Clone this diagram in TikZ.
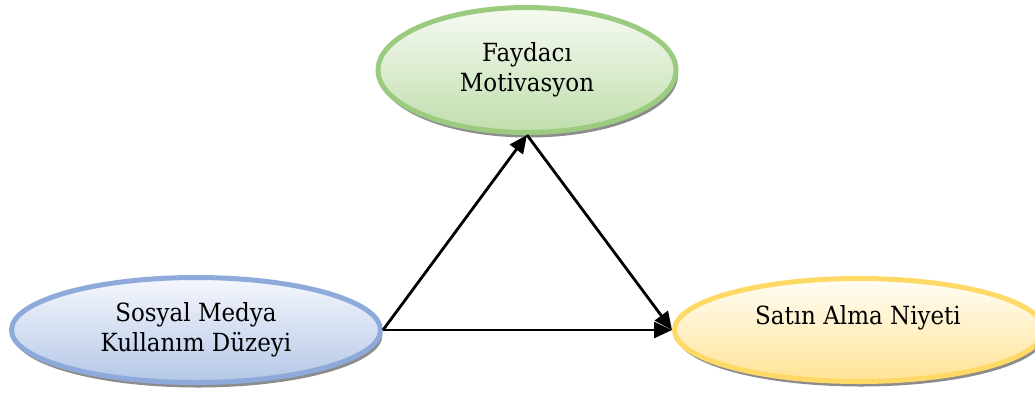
\documentclass[tikz,border=0pt]{standalone}
\usepackage{fontspec}
\setmainfont{DejaVu Serif}[FakeStretch=0.92]
\usetikzlibrary{shapes.geometric,arrows.meta,shadows}

\definecolor{greenline}{HTML}{9BCB7F}
\definecolor{greentop}{HTML}{F6FAF3}
\definecolor{greenbot}{HTML}{C0DEAC}
\definecolor{blueline}{HTML}{8EAADB}
\definecolor{bluetop}{HTML}{F5F7FC}
\definecolor{bluebot}{HTML}{B4C7E7}
\definecolor{yellowline}{HTML}{FFD966}
\definecolor{yellowtop}{HTML}{FFFDF6}
\definecolor{yellowbot}{HTML}{FFE395}

\begin{document}
\begin{tikzpicture}[x=1pt,y=-1pt,
  oval/.style={ellipse, line width=5pt, inner sep=0pt, align=center,
    font=\fontsize{25}{30}\selectfont,
    drop shadow={shadow xshift=2pt, shadow yshift=-5pt, fill=black!45, opacity=1}},
  label text/.style={font=\fontsize{25}{30}\selectfont, align=center, inner sep=0pt},
  link/.style={line width=2.8pt, -{Triangle[length=18pt,width=16pt]}}]
\useasboundingbox (0,0) rectangle (1035,392);

% the three constructs
\node[oval, draw=greenline, top color=greentop, bottom color=greenbot,
      minimum width=298pt, minimum height=125pt] (fm) at (527,70) {Faydacı\\Motivasyon};
\node[oval, draw=blueline, top color=bluetop, bottom color=bluebot,
      minimum width=369pt, minimum height=105pt] (sm) at (196,330) {Sosyal Medya\\Kullanım Düzeyi};
\node[oval, draw=yellowline, top color=yellowtop, bottom color=yellowbot,
      minimum width=369pt, minimum height=103pt] (san) at (859,330) {};
\node[label text] (sant) at (858,318) {Satın Alma Niyeti};

% relations
\draw[link] (sm.east) -- (fm.south);
\draw[link] (fm.south) -- (san.west);
\draw[link] (sm.east) -- (san.west);
\end{tikzpicture}
\end{document}
